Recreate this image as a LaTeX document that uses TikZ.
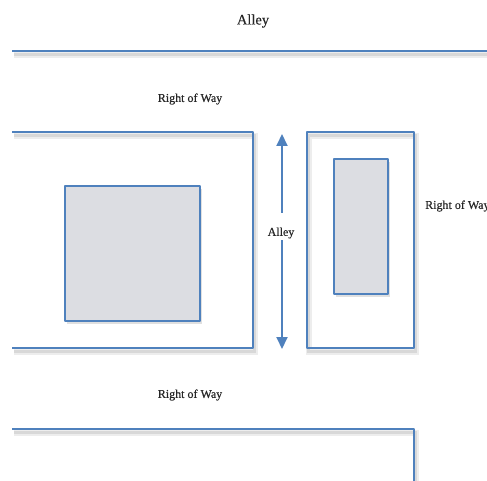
\documentclass[tikz,border=0pt]{standalone}
\usepackage{fontspec}
\setmainfont{Liberation Serif}
\newfontface\heavyserif{Liberation Serif}[FakeBold=0.35]
\usetikzlibrary{arrows.meta}
\definecolor{lotblue}{RGB}{79,129,189}
\definecolor{bldgfill}{RGB}{220,221,226}
\tikzset{
  lotline/.style={draw=lotblue, line width=2pt, line join=round},
  shade1/.style={draw=black, opacity=0.07, line width=6pt, shift={(2,4)}},
  shade2/.style={draw=black, opacity=0.09, line width=3pt, shift={(1.5,3.5)}},
  bldg/.style={lotline, fill=bldgfill},
  bshade/.style={fill=black, opacity=0.12, shift={(2,3)}},
  lbl/.style={font=\heavyserif\fontsize{12}{14}\selectfont, inner sep=1pt, text=black!85},
  alleyarrow/.style={draw=lotblue, line width=2pt, -{Triangle[length=12pt,width=11pt]}}
}
\begin{document}
\begin{tikzpicture}[x=1pt,y=-1pt]
\useasboundingbox (0,0) rectangle (487,481);
% texts
\node[font=\heavyserif\fontsize{14.5}{16}\selectfont, text=black!85] (title) at (253,21) {Alley};
\node[lbl] (rowtop) at (190,99) {Right of Way};
\node[lbl, anchor=west] (rowright) at (424,206) {Right of Way};
\node[lbl] (rowbottom) at (190,395) {Right of Way};
\node[lbl] (alleylbl) at (281,233) {Alley};
% shadows
\foreach \s in {shade1,shade2}{
  \draw[\s] (12,51) -- (487,51);
  \draw[\s] (12,132) -- (253,132) -- (253,348) -- (12,348);
  \draw[\s] (307,132) rectangle (414,348);
  \draw[\s] (12,429) -- (414,429) -- (414,481);
}
\fill[bshade] (65,186) rectangle (200,321);
\fill[bshade] (334,159) rectangle (388,294);
% lines
\draw[lotline] (12,51) -- (487,51);
\draw[lotline] (12,132) -- (253,132) -- (253,348) -- (12,348);
\draw[lotline] (307,132) rectangle (414,348);
\draw[lotline] (12,429) -- (414,429) -- (414,481);
% buildings
\draw[bldg] (65,186) rectangle (200,321);
\draw[bldg] (334,159) rectangle (388,294);
% alley arrow
\coordinate (atop) at (282,134);
\coordinate (abot) at (282,349);
\draw[alleyarrow] (282,213) -- (atop);
\draw[alleyarrow] (282,240) -- (abot);
\end{tikzpicture}
\end{document}
